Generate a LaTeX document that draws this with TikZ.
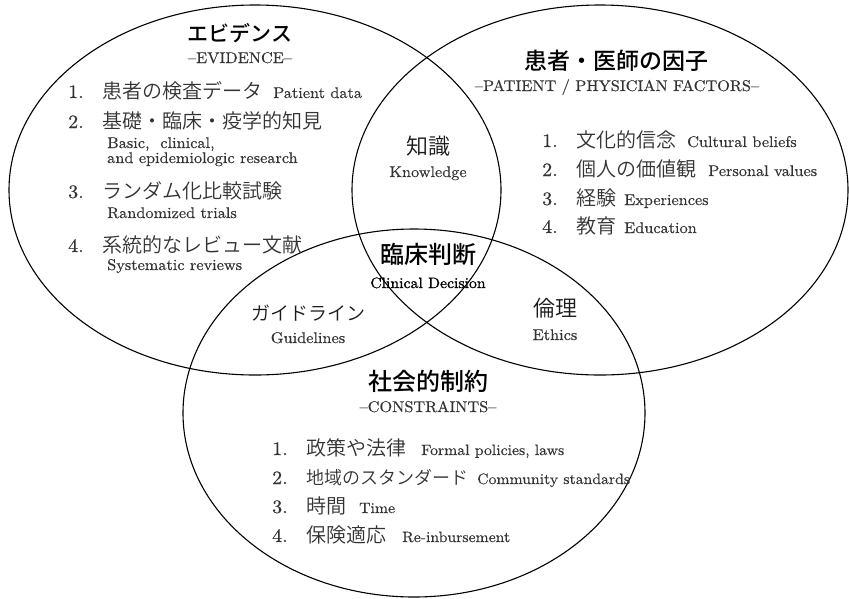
\documentclass[tikz,border=0pt]{standalone}
\usepackage{fontspec}
\setmainfont{lmroman10-regular.otf}[FakeStretch=1.05, FakeBold=0.4]
\IfFontExistsTF{Noto Sans CJK JP DemiLight}
  {\newfontfamily\jp{Noto Sans CJK JP DemiLight}}
  {\IfFontExistsTF{Noto Sans CJK JP Light}
    {\newfontfamily\jp{Noto Sans CJK JP Light}}
    {\newfontfamily\jp{Noto Sans CJK JP}}}
\IfFontExistsTF{Noto Sans CJK JP Medium}
  {\newfontfamily\jpt{Noto Sans CJK JP Medium}}
  {\newfontfamily\jpt{Noto Sans CJK JP}}
\definecolor{ink}{gray}{0.2}
\tikzset{
  venn/.style={draw=black, line width=1.1pt},
  jtitle/.style={font={\fontsize{23}{26}\selectfont\jpt}, text=black, inner sep=0pt, anchor=base},
  jmid/.style={font={\fontsize{22}{24}\selectfont\jp}, text=black!90, inner sep=0pt, anchor=base},
  subtitle/.style={font={\fontsize{15.5}{17}\selectfont}, text=ink, inner sep=0pt, anchor=base},
  item/.style={font={\fontsize{20}{22}\selectfont\jp}, text=ink, inner sep=0pt, anchor=base west},
  eitem/.style={font={\fontsize{15.5}{17}\selectfont}, text=ink, inner sep=0pt, anchor=base west},
  bitem/.style={eitem, font={\fontsize{15}{17}\selectfont}},
  elabel/.style={font={\fontsize{15.5}{17}\selectfont}, text=ink, inner sep=0pt, anchor=base},
}
\newcommand{\numb}[1]{{\rmfamily\fontsize{19}{21}\selectfont\makebox[34pt][l]{#1}}}
\begin{document}
\begin{tikzpicture}[x=1pt,y=-1pt]
\useasboundingbox (0,0) rectangle (849,598);
% ellipses
\draw[venn] (255,190) ellipse [x radius=246pt, y radius=185pt];
\draw[venn] (600,190) ellipse [x radius=248pt, y radius=185pt];
\draw[venn] (414,413) ellipse [x radius=231pt, y radius=184pt];

% Evidence
\node[jtitle, font={\fontsize{21}{24}\selectfont\jpt}] (evT) at (240,41) {エビデンス};
\node[subtitle] (evS) at (240,63) {--EVIDENCE--};
\node[item] (ev1) at (68,98) {\numb{1.}患者の検査データ};
\node[eitem] (ev1e) at (273,98) {Patient data};
\node[item] (ev2) at (68,128) {\numb{2.}基礎・臨床・疫学的知見};
\node[eitem] (ev2e) at (107,148) {Basic,\ \ clinical,};
\node[eitem] (ev2f) at (107,163) {and epidemiologic research};
\node[item] (ev3) at (68,198) {\numb{3.}ランダム化比較試験};
\node[eitem] (ev3e) at (107,218) {Randomized trials};
\node[item] (ev4) at (68,252) {\numb{4.}系統的なレビュー文献};
\node[eitem] (ev4e) at (107,270) {Systematic reviews};

% Patient / physician
\node[jtitle] (ptT) at (616,69) {患者・医師の因子};
\node[subtitle] (ptS) at (617,91) {--PATIENT / PHYSICIAN FACTORS--};
\node[item] (pt1) at (542,147) {\numb{1.}文化的信念};
\node[eitem] (pt1e) at (687,147) {Cultural beliefs};
\node[item] (pt2) at (542,176) {\numb{2.}個人の価値観};
\node[eitem] (pt2e) at (708,176) {Personal values};
\node[item] (pt3) at (542,205) {\numb{3.}経験};
\node[eitem] (pt3e) at (624,205) {Experiences};
\node[item] (pt4) at (542,233) {\numb{4.}教育};
\node[eitem] (pt4e) at (624,233) {Education};

% intersections
\node[jmid] (kn) at (428,154) {知識};
\node[elabel] (kne) at (428,177) {Knowledge};
\node[jtitle, font={\fontsize{24}{26}\selectfont\jpt}] (cd) at (428,263) {臨床判断};
\node[elabel, text=black, font={\fontsize{15}{17}\selectfont\addfontfeature{FakeBold=1.2}}] (cde) at (428,288) {Clinical Decision};
\node[jmid, font={\fontsize{19}{22}\selectfont\jp}] (gl) at (308,320) {ガイドライン};
\node[elabel] (gle) at (308,343) {Guidelines};
\node[jmid] (et) at (555,316) {倫理};
\node[elabel] (ete) at (555,340) {Ethics};

% Constraints
\node[jtitle, font={\fontsize{24}{26}\selectfont\jpt}] (csT) at (428,390) {社会的制約};
\node[subtitle] (csS) at (428,412) {--CONSTRAINTS--};
\node[item] (cs1) at (272,455) {\numb{1.}政策や法律};
\node[bitem] (cs1e) at (421,455) {Formal policies, laws};
\node[item] (cs2) at (272,484) {\numb{2.}{\fontsize{18}{20}\selectfont 地域のスタンダード}};
\node[bitem] (cs2e) at (477,484) {Community standards};
\node[item] (cs3) at (272,513) {\numb{3.}時間};
\node[bitem] (cs3e) at (359,513) {Time};
\node[item] (cs4) at (272,542) {\numb{4.}保険適応};
\node[bitem] (cs4e) at (402,542) {Re-inbursement};
\end{tikzpicture}
\end{document}
